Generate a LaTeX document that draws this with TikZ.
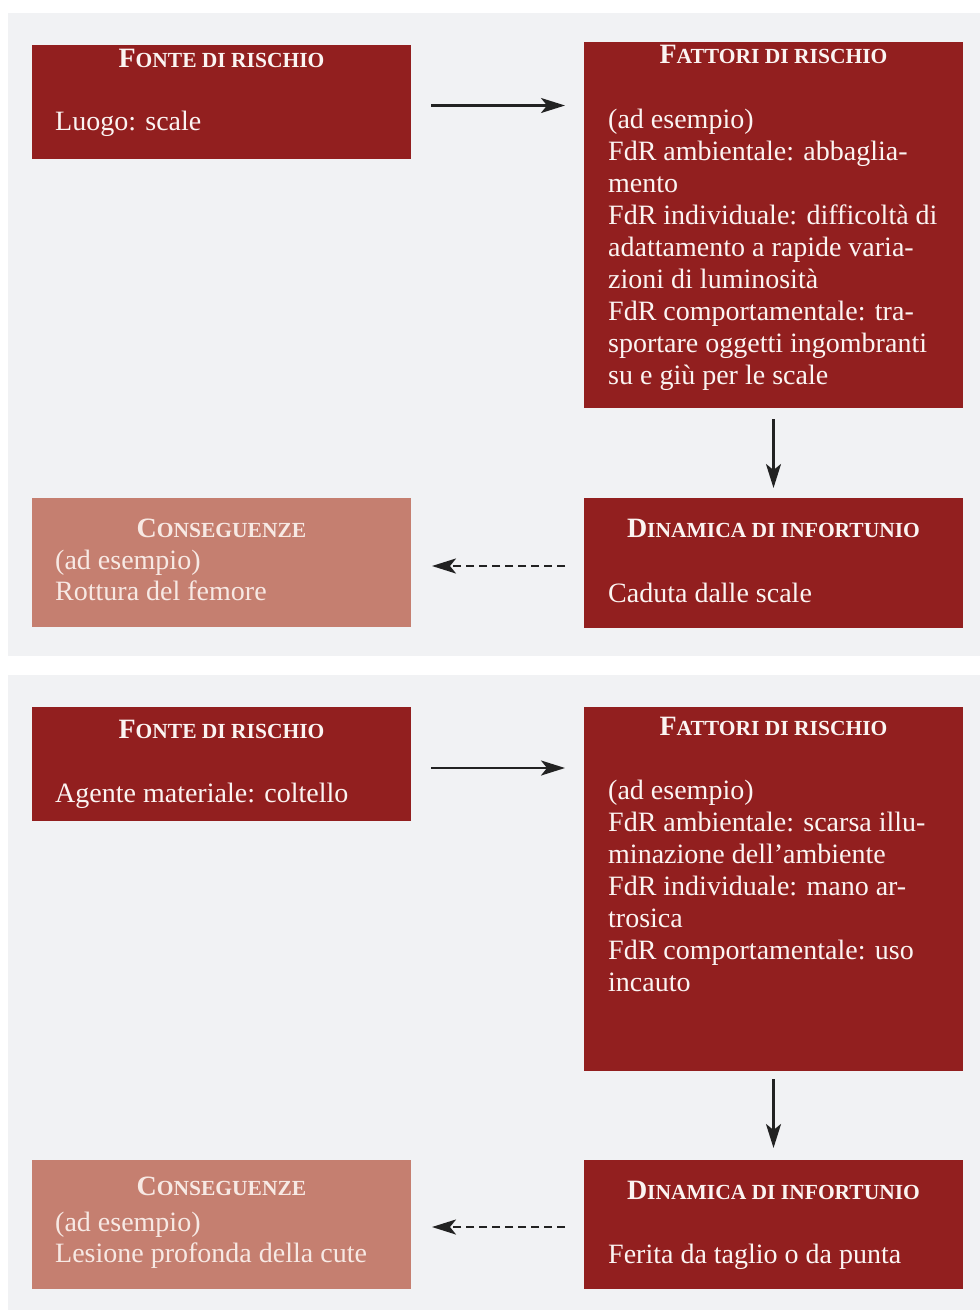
\documentclass[tikz,border=0pt]{standalone}
\usepackage{fontspec}
\setmainfont{Liberation Serif}
\usetikzlibrary{arrows.meta}
\definecolor{bgpanel}{HTML}{F1F2F4}
\definecolor{darkred}{HTML}{921F1F}
\definecolor{palered}{HTML}{C57F70}
\definecolor{txtlight}{HTML}{FBF4F2}
\definecolor{txtpale}{HTML}{F7E9E4}
\definecolor{arrowcol}{HTML}{222222}
\newcommand\hdrtext[2]{{\fontsize{28}{32}\selectfont\bfseries #1}{\fontsize{21.5}{32}\selectfont\bfseries #2}}
\newcommand\stacklines[1]{\begin{tabular}[t]{@{}l@{}}#1\end{tabular}}
\tikzset{
  x=1pt, y=-1pt,
  panel/.style={fill=bgpanel, draw=none},
  redbox/.style={fill=darkred, draw=none, inner sep=0pt, outer sep=0pt, anchor=north west, minimum width=379pt},
  palebox/.style={fill=palered, draw=none, inner sep=0pt, outer sep=0pt, anchor=north west, minimum width=379pt},
  hdr/.style={inner sep=0pt, anchor=base, text=txtlight},
  hdrpale/.style={hdr, text=txtpale},
  body/.style={inner sep=0pt, anchor=base west, text=txtlight, font=\fontsize{28}{32}\selectfont},
  bodypale/.style={body, text=txtpale, font=\fontsize{28}{31}\selectfont},
  arr/.style={line width=2.4pt, draw=arrowcol, -{Stealth[length=24pt,width=15pt,inset=6pt]}},
  darr/.style={arr, dash pattern=on 8.5pt off 4.5pt},
}
\begin{document}
\begin{tikzpicture}
\useasboundingbox (0,0) rectangle (980,1310);
\fill[white] (0,0) rectangle (980,1310);
% panels
\path[panel] (8,13) rectangle (980,656);
\path[panel] (8,675) rectangle (980,1310);

% ===== Panel 1 =====
\node[redbox, minimum height=114pt] (f1) at (32,45) {};
\node[redbox, minimum height=366pt] (r1) at (584,42) {};
\node[redbox, minimum height=130pt] (d1) at (584,498) {};
\node[palebox, minimum height=129pt] (c1) at (32,498) {};

\node[hdr] (f1h) at (221.5,67) {\hdrtext{F}{ONTE DI RISCHIO}};
\node[body] (f1b) at (55,130) {Luogo: scale};

\node[hdr] (r1h) at (773.5,63) {\hdrtext{F}{ATTORI DI RISCHIO}};
\node[body] (r1b) at (608,128) {\stacklines{(ad esempio)\\
FdR ambientale: abbaglia-\\
mento\\
FdR individuale: difficoltà di\\
adattamento a rapide varia-\\
zioni di luminosità\\
FdR comportamentale: tra-\\
sportare oggetti ingombranti\\
su e giù per le scale}};

\node[hdr] (d1h) at (773.5,537) {\hdrtext{D}{INAMICA DI INFORTUNIO}};
\node[body] (d1b) at (608,602) {Caduta dalle scale};

\node[hdrpale] (c1h) at (221.5,537) {\hdrtext{C}{ONSEGUENZE}};
\node[bodypale] (c1b) at (55,569) {\stacklines{(ad esempio)\\Rottura del femore}};

\coordinate (a1) at ([xshift=20pt,yshift=-3.5pt]f1.east);
\draw[arr, shorten >=19pt] (a1) -- (a1 -| r1.west);
\draw[arr, shorten <=11pt, shorten >=10pt] (r1.south) -- (d1.north);
\coordinate (b1) at ([yshift=-3pt]d1.west);
\draw[darr, shorten <=19pt, shorten >=21pt] (b1) -- (b1 -| c1.east);

% ===== Panel 2 =====
\node[redbox, minimum height=114pt] (f2) at (32,707) {};
\node[redbox, minimum height=364pt] (r2) at (584,707) {};
\node[redbox, minimum height=129pt] (d2) at (584,1160) {};
\node[palebox, minimum height=129pt] (c2) at (32,1160) {};

\node[hdr] (f2h) at (221.5,738) {\hdrtext{F}{ONTE DI RISCHIO}};
\node[body] (f2b) at (55,802) {Agente materiale: coltello};

\node[hdr] (r2h) at (773.5,735) {\hdrtext{F}{ATTORI DI RISCHIO}};
\node[body] (r2b) at (608,799) {\stacklines{(ad esempio)\\
FdR ambientale: scarsa illu-\\
minazione dell’ambiente\\
FdR individuale: mano ar-\\
trosica\\
FdR comportamentale: uso\\
incauto}};

\node[hdr] (d2h) at (773.5,1199) {\hdrtext{D}{INAMICA DI INFORTUNIO}};
\node[body] (d2b) at (608,1263) {Ferita da taglio o da punta};

\node[hdrpale] (c2h) at (221.5,1195) {\hdrtext{C}{ONSEGUENZE}};
\node[bodypale] (c2b) at (55,1231) {\stacklines{(ad esempio)\\Lesione profonda della cute}};

\coordinate (a2) at ([xshift=20pt,yshift=-4pt]f2.east);
\draw[arr, shorten >=19pt] (a2) -- (a2 -| r2.west);
\draw[arr, shorten <=8pt, shorten >=12pt] (r2.south) -- (d2.north);
\coordinate (b2) at ([yshift=-2.5pt]d2.west);
\draw[darr, shorten <=19pt, shorten >=21pt] (b2) -- (b2 -| c2.east);
\end{tikzpicture}
\end{document}
